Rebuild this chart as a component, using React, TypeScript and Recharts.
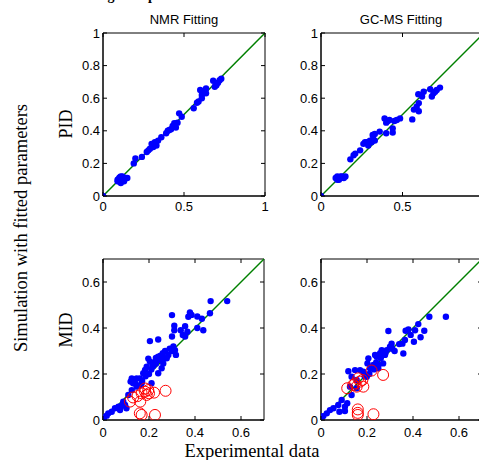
import React from 'react';
import { ScatterChart, Scatter, XAxis, YAxis, ReferenceLine, ReferenceArea } from 'recharts';

type Pt = [number, number];

// ---------- data (experimental, simulated) ----------
const nmrPid: Pt[] = [
  [0, 0],
  [0.09, 0.1], [0.1, 0.11], [0.11, 0.12], [0.1, 0.09], [0.12, 0.1], [0.13, 0.09], [0.14, 0.11],
  [0.11, 0.08], [0.12, 0.12], [0.15, 0.11], [0.09, 0.09], [0.105, 0.115],
  [0.19, 0.2], [0.2, 0.23], [0.24, 0.24], [0.27, 0.27], [0.28, 0.28], [0.29, 0.29], [0.3, 0.32],
  [0.31, 0.3], [0.32, 0.33], [0.33, 0.31], [0.34, 0.34], [0.36, 0.36], [0.39, 0.385], [0.4, 0.4],
  [0.41, 0.405], [0.42, 0.41], [0.43, 0.43], [0.44, 0.446], [0.45, 0.42], [0.46, 0.45], [0.47, 0.507],
  [0.486, 0.486], [0.56, 0.538], [0.58, 0.572], [0.59, 0.58], [0.6, 0.65], [0.61, 0.62], [0.61, 0.6],
  [0.636, 0.66], [0.636, 0.63], [0.62, 0.64], [0.68, 0.707], [0.69, 0.67], [0.7, 0.68], [0.71, 0.695],
  [0.72, 0.71], [0.73, 0.72],
];

const gcmsPid: Pt[] = [
  [0, 0],
  [0.09, 0.11], [0.1, 0.12], [0.11, 0.1], [0.12, 0.11], [0.13, 0.12], [0.14, 0.11], [0.15, 0.12],
  [0.1, 0.1], [0.12, 0.12],
  [0.18, 0.225], [0.2, 0.25], [0.21, 0.26], [0.24, 0.28], [0.26, 0.32], [0.27, 0.33], [0.28, 0.33],
  [0.29, 0.31], [0.3, 0.34], [0.31, 0.33], [0.317, 0.374], [0.32, 0.35], [0.33, 0.34], [0.33, 0.38],
  [0.36, 0.395], [0.39, 0.476], [0.4, 0.385], [0.4, 0.45], [0.41, 0.46], [0.42, 0.466], [0.44, 0.415],
  [0.44, 0.39], [0.45, 0.46], [0.465, 0.466], [0.485, 0.476], [0.56, 0.47], [0.57, 0.53], [0.587, 0.548],
  [0.6, 0.52], [0.6, 0.57], [0.597, 0.624], [0.62, 0.61], [0.63, 0.64], [0.67, 0.655], [0.68, 0.61],
  [0.69, 0.63], [0.7, 0.64], [0.71, 0.65], [0.73, 0.665],
];

const nmrMid: Pt[] = [
  [0.468, 0.517], [0.54, 0.517], [0.465, 0.464], [0.378, 0.468], [0.385, 0.457], [0.371, 0.449],
  [0.41, 0.45], [0.43, 0.44], [0.436, 0.39], [0.41, 0.4], [0.3, 0.456], [0.31, 0.41], [0.31, 0.39],
  [0.338, 0.39], [0.357, 0.408], [0.357, 0.363], [0.367, 0.384], [0.347, 0.37], [0.3, 0.363],
  [0.24, 0.35], [0.204, 0.343], [0.306, 0.32], [0.313, 0.304], [0.317, 0.283], [0.284, 0.283],
  [0.26, 0.29], [0.24, 0.275], [0.248, 0.261], [0.23, 0.246], [0.219, 0.235], [0.197, 0.267],
  [0.204, 0.254], [0.19, 0.232], [0.183, 0.218], [0.175, 0.203], [0.24, 0.203], [0.255, 0.225],
  [0.262, 0.246], [0.277, 0.268], [0.16, 0.181], [0.146, 0.181], [0.125, 0.181], [0.12, 0.167],
  [0.131, 0.16], [0.168, 0.16], [0.146, 0.145], [0.125, 0.13], [0.11, 0.109], [0.088, 0.08],
  [0.096, 0.065], [0.067, 0.058], [0.052, 0.051], [0.038, 0.036], [0.023, 0.029], [0.016, 0.019],
  [0.004, 0.01], [0.074, 0.043], [0.102, 0.051], [0.08, 0.061], [0.211, 0.16], [0.21, 0.22],
  [0.22, 0.25], [0.23, 0.27], [0.25, 0.28], [0.27, 0.3], [0.29, 0.31], [0.2, 0.2], [0.185, 0.19],
  [0.17, 0.17], [0.215, 0.24], [0.235, 0.26], [0.265, 0.27], [0.3, 0.3], [0.16, 0.15], [0.14, 0.16],
];

const nmrMidOut: Pt[] = [
  [0.117, 0.08], [0.15, 0.104], [0.162, 0.08], [0.168, 0.116], [0.183, 0.123], [0.197, 0.13],
  [0.19, 0.109], [0.2, 0.116], [0.222, 0.119], [0.272, 0.127], [0.16, 0.029], [0.168, 0.022],
  [0.226, 0.022], [0.183, 0.137], [0.131, 0.098],
];

const gcmsMid: Pt[] = [
  [0.543, 0.449], [0.471, 0.449], [0.423, 0.417], [0.449, 0.388], [0.433, 0.36], [0.404, 0.34],
  [0.409, 0.39], [0.38, 0.394], [0.368, 0.388], [0.354, 0.332], [0.358, 0.289], [0.365, 0.348],
  [0.293, 0.387], [0.307, 0.332], [0.3, 0.319], [0.286, 0.304], [0.264, 0.304], [0.257, 0.29],
  [0.278, 0.283], [0.242, 0.275], [0.235, 0.283], [0.206, 0.268], [0.202, 0.246], [0.228, 0.239],
  [0.27, 0.246], [0.249, 0.225], [0.213, 0.225], [0.184, 0.21], [0.17, 0.217], [0.148, 0.217],
  [0.119, 0.212], [0.133, 0.188], [0.155, 0.174], [0.199, 0.188], [0.126, 0.145], [0.155, 0.138],
  [0.133, 0.109], [0.114, 0.073], [0.104, 0.058], [0.08, 0.036], [0.075, 0.065], [0.09, 0.087],
  [0.054, 0.051], [0.039, 0.043], [0.025, 0.029], [0.01, 0.017], [0.003, 0.014], [0.104, 0.039],
  [0.22, 0.23], [0.24, 0.25], [0.26, 0.27], [0.28, 0.29], [0.31, 0.31], [0.32, 0.3], [0.19, 0.19],
  [0.21, 0.2], [0.23, 0.22], [0.25, 0.24], [0.34, 0.33], [0.39, 0.37],
];

const gcmsMidOut: Pt[] = [
  [0.114, 0.138], [0.14, 0.152], [0.155, 0.145], [0.17, 0.167], [0.184, 0.145], [0.18, 0.174],
  [0.162, 0.181], [0.148, 0.159], [0.27, 0.196], [0.16, 0.046], [0.16, 0.031], [0.16, 0.022],
  [0.228, 0.025], [0.22, 0.215],
];

const pidTicksX = [0, 0.5, 1];
const pidTicksY = [0, 0.2, 0.4, 0.6, 0.8, 1];
const midTicks = [0, 0.2, 0.4, 0.6];

// ---------- styling ----------
const SANS = '"Liberation Sans", Arial, sans-serif';
const SERIF = '"Liberation Serif", "Times New Roman", serif';
const GAP = 3;
const TL = 4;

const toObjs = (a: Pt[]) => a.map(([x, y]) => ({ x, y }));

const BlueDot = (p: any) => <circle cx={p.cx} cy={p.cy} r={3.2} fill="#0000ff" />;
const RedRing = (p: any) => (
  <circle cx={p.cx} cy={p.cy} r={5.5} fill="none" stroke="#ff0000" strokeWidth={1} />
);

interface PanelProps {
  left: number;
  top: number;
  w: number;
  h: number;
  max: number;
  xTicks: number[];
  yTicks: number[];
  xLabelBase: number;
  blue: Pt[];
  red?: Pt[];
}

function Panel({ left, top, w, h, max, xTicks, yTicks, xLabelBase, blue, red }: PanelProps) {
  const YW = 45, MT = 6, MR = 8, XH = 26;
  const fmt = (v: number) => String(v);

  // bottom tick: inward tick at bottom and matching tick on the top edge of the box
  const BottomTick = (p: any) => {
    const ax = p.y - GAP;
    const topY = ax - h;
    return (
      <g>
        <line x1={p.x} x2={p.x} y1={ax} y2={ax - TL} stroke="#000" />
        <line x1={p.x} x2={p.x} y1={topY} y2={topY + TL} stroke="#000" />
        <text x={p.x} y={ax + xLabelBase} textAnchor="middle" fontFamily={SANS} fontSize={13} fill="#000">
          {fmt(p.payload.value)}
        </text>
      </g>
    );
  };
  // left tick: inward tick on left and matching tick on the right edge of the box
  const LeftTick = (p: any) => {
    const ax = p.x + GAP;
    const rightX = ax + w;
    return (
      <g>
        <line x1={ax} x2={ax + TL} y1={p.y} y2={p.y} stroke="#000" />
        <line x1={rightX} x2={rightX - TL} y1={p.y} y2={p.y} stroke="#000" />
        <text x={ax - 3} y={p.y + 4.6} textAnchor="end" fontFamily={SANS} fontSize={13} fill="#000">
          {fmt(p.payload.value)}
        </text>
      </g>
    );
  };

  return (
    <div style={{ position: 'absolute', left: left - YW, top: top - MT }}>
      <ScatterChart
        width={YW + w + MR}
        height={MT + h + XH}
        margin={{ top: MT, right: MR, bottom: 0, left: 0 }}
      >
        <XAxis
          xAxisId="b" type="number" dataKey="x" domain={[0, max]} ticks={xTicks} interval={0}
          height={XH} tickSize={0} tickMargin={GAP} tickLine={false} tick={BottomTick}
          axisLine={{ stroke: '#000' }} allowDataOverflow
        />
        <YAxis
          yAxisId="l" type="number" dataKey="y" domain={[0, max]} ticks={yTicks} interval={0}
          width={YW} tickSize={0} tickMargin={GAP} tickLine={false} tick={LeftTick}
          axisLine={{ stroke: '#000' }} allowDataOverflow
        />
        <ReferenceArea
          xAxisId="b" yAxisId="l" x1={0} x2={max} y1={0} y2={max}
          fill="none" fillOpacity={0} stroke="#000" strokeWidth={1} ifOverflow="visible"
        />
        <Scatter
          xAxisId="b" yAxisId="l" data={toObjs(blue)} shape={BlueDot} isAnimationActive={false}
        />
        {red && (
          <Scatter
            xAxisId="b" yAxisId="l" data={toObjs(red)} shape={RedRing} isAnimationActive={false}
          />
        )}
        <ReferenceLine
          xAxisId="b" yAxisId="l"
          segment={[{ x: 0, y: 0 }, { x: max, y: max }]}
          stroke="#008000" strokeWidth={1.5} ifOverflow="visible"
        />
      </ScatterChart>
    </div>
  );
}

export default function App() {
  return (
    <div
      style={{
        position: 'absolute', left: 0, top: 0, width: 479, height: 460,
        overflow: 'hidden', background: '#fff',
      }}
    >
      <Panel left={103} top={33} w={162} h={163} max={1} xTicks={pidTicksX} yTicks={pidTicksY}
        xLabelBase={14.5} blue={nmrPid} />
      <Panel left={321} top={33} w={163} h={163} max={1} xTicks={pidTicksX} yTicks={pidTicksY}
        xLabelBase={15} blue={gcmsPid} />
      <Panel left={103} top={259} w={161} h={161} max={0.7} xTicks={midTicks} yTicks={midTicks}
        xLabelBase={17} blue={nmrMid} red={nmrMidOut} />
      <Panel left={321} top={259} w={161} h={161} max={0.7} xTicks={midTicks} yTicks={midTicks}
        xLabelBase={17} blue={gcmsMid} red={gcmsMidOut} />
      <svg
        width={479} height={460}
        style={{ position: 'absolute', left: 0, top: 0, pointerEvents: 'none' }}
      >
        <text x={74} y={-0.5} fontFamily={SERIF} fontWeight="bold" fontSize={14} fill="#000">
          Fitting with parameters
        </text>
        <text x={184} y={23.5} textAnchor="middle" fontFamily={SANS} fontSize={13} fill="#000">
          NMR Fitting
        </text>
        <text x={401} y={23.5} textAnchor="middle" fontFamily={SANS} fontSize={13} fill="#000">
          GC-MS Fitting
        </text>
        <text transform="translate(72,124) rotate(-90)" textAnchor="middle" fontFamily={SERIF} fontSize={18} fill="#000">
          PID
        </text>
        <text transform="translate(72,330) rotate(-90)" textAnchor="middle" fontFamily={SERIF} fontSize={18} fill="#000">
          MID
        </text>
        <text transform="translate(26.5,228) rotate(-90)" textAnchor="middle" fontFamily={SERIF} fontSize={18.5} fill="#000">
          Simulation with fitted parameters
        </text>
        <text x={252} y={457} textAnchor="middle" fontFamily={SERIF} fontSize={18.5} fill="#000">
          Experimental data
        </text>
      </svg>
    </div>
  );
}
